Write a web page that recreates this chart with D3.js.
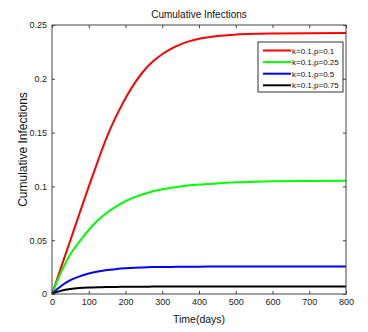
<!DOCTYPE html>
<meta charset="utf-8">
<style>
body { margin: 0; background: #fff; }
svg { font-family: "Liberation Sans", Arial, sans-serif; }
.axis path.domain { display: none; }
.axis line { stroke: #444; }
.axis text { fill: #222; font-size: 9px; }
.line { fill: none; stroke-width: 2px; }
</style>
<body>
<div id="chart"></div>
<script src="https://d3js.org/d3.v7.min.js"></script>
<script>
// data
var days  = [0, 10, 25, 50, 75, 100, 125, 150, 175, 200, 225, 250, 275, 300, 325, 350, 375, 400, 450, 500, 550, 600, 700, 800];
var red   = [0, 0.010, 0.025, 0.050, 0.075, 0.0998, 0.1238, 0.1465, 0.1655, 0.182, 0.196, 0.2075, 0.2162, 0.2228, 0.228, 0.232, 0.235, 0.2372, 0.2398, 0.2411, 0.2418, 0.2421, 0.2424, 0.2425];
var green = [0, 0.0086, 0.0205, 0.037, 0.049, 0.0595, 0.0685, 0.0757, 0.0815, 0.0862, 0.090, 0.093, 0.0955, 0.0973, 0.0988, 0.100, 0.101, 0.1017, 0.1028, 0.1038, 0.1043, 0.1047, 0.1051, 0.1053];
var blue  = [0, 0.0033, 0.0075, 0.0128, 0.0164, 0.0190, 0.0209, 0.0223, 0.0232, 0.0239, 0.0244, 0.0247, 0.0250, 0.0251, 0.0252, 0.0253, 0.0254, 0.0254, 0.0255, 0.0255, 0.0255, 0.0255, 0.0255, 0.0255];
var black = [0, 0.0015, 0.0030, 0.0046, 0.0055, 0.0060, 0.0063, 0.0065, 0.0066, 0.0067, 0.0068, 0.0068, 0.0069, 0.0069, 0.0069, 0.0069, 0.0069, 0.0069, 0.0069, 0.0069, 0.0069, 0.0069, 0.0069, 0.0069];
var seriesNames = ["k=0.1,p=0.1", "k=0.1,p=0.25", "k=0.1,p=0.5", "k=0.1,p=0.75"];
var seriesColors = ["#ff0000", "#00ff00", "#0000ff", "#000000"];
var xTicks = [0, 100, 200, 300, 400, 500, 600, 700, 800];
var yTicks = [0, 0.05, 0.1, 0.15, 0.2, 0.25];

var margin = {top: 25, right: 22, bottom: 38, left: 52},
    width = 368 - margin.left - margin.right,
    height = 332 - margin.top - margin.bottom;

var svg = d3.select("#chart").append("svg")
    .attr("width", 368)
    .attr("height", 332);
var g = svg.append("g")
    .attr("transform", "translate(" + margin.left + "," + margin.top + ")");

var x = d3.scaleLinear().domain([0, 800]).range([0, width]);
var y = d3.scaleLinear().domain([0, 0.25]).range([height, 0]);

// curves
var allSeries = [red, green, blue, black];
var line = d3.line()
    .x(function(d, i) { return x(days[i]); })
    .y(function(d) { return y(d); })
    .curve(d3.curveMonotoneX);

allSeries.forEach(function(s, i) {
  g.append("path")
    .datum(s)
    .attr("class", "line")
    .attr("stroke", seriesColors[i])
    .attr("d", line);
});

// axes (ticks pointing inward, box around)
g.append("g").attr("class", "axis")
    .attr("transform", "translate(0," + height + ")")
    .call(d3.axisBottom(x).tickValues(xTicks).tickSize(-3).tickPadding(5).tickFormat(d3.format("d")));
g.append("g").attr("class", "axis")
    .call(d3.axisTop(x).tickValues(xTicks).tickSize(-3).tickFormat(""));
g.append("g").attr("class", "axis")
    .call(d3.axisLeft(y).tickValues(yTicks).tickSize(-3).tickPadding(5).tickFormat(function(d) { return d === 0 ? "0" : d3.format("")(+d.toFixed(2)); }));
g.append("g").attr("class", "axis")
    .attr("transform", "translate(" + width + ",0)")
    .call(d3.axisRight(y).tickValues(yTicks).tickSize(-3).tickFormat(""));

g.append("rect")
    .attr("width", width).attr("height", height)
    .attr("fill", "none").attr("stroke", "#444").attr("stroke-width", 1);

// titles
svg.append("text")
    .attr("x", margin.left + width / 2).attr("y", 18)
    .attr("text-anchor", "middle").attr("font-size", "10px").attr("fill", "#111")
    .text("Cumulative Infections");
svg.append("text")
    .attr("x", margin.left + width / 2).attr("y", 323)
    .attr("text-anchor", "middle").attr("font-size", "10.5px").attr("fill", "#111")
    .text("Time(days)");
svg.append("text")
    .attr("transform", "translate(27," + (margin.top + height / 2 - 10) + ") rotate(-90)")
    .attr("text-anchor", "middle").attr("font-size", "12px").attr("fill", "#111")
    .text("Cumulative Infections");

// legend
var legend = svg.append("g").attr("transform", "translate(258,42)");
legend.append("rect")
    .attr("width", 85).attr("height", 50)
    .attr("fill", "#fff").attr("stroke", "#333").attr("stroke-width", 1);
seriesNames.forEach(function(name, i) {
  var ly = 8.5 + i * 11.6;
  legend.append("line")
    .attr("x1", 5).attr("x2", 33).attr("y1", ly).attr("y2", ly)
    .attr("stroke", seriesColors[i]).attr("stroke-width", 2);
  legend.append("text")
    .attr("x", 34).attr("y", ly + 3)
    .attr("font-size", "8px").attr("fill", "#111")
    .text(name);
});
</script>
</body>
